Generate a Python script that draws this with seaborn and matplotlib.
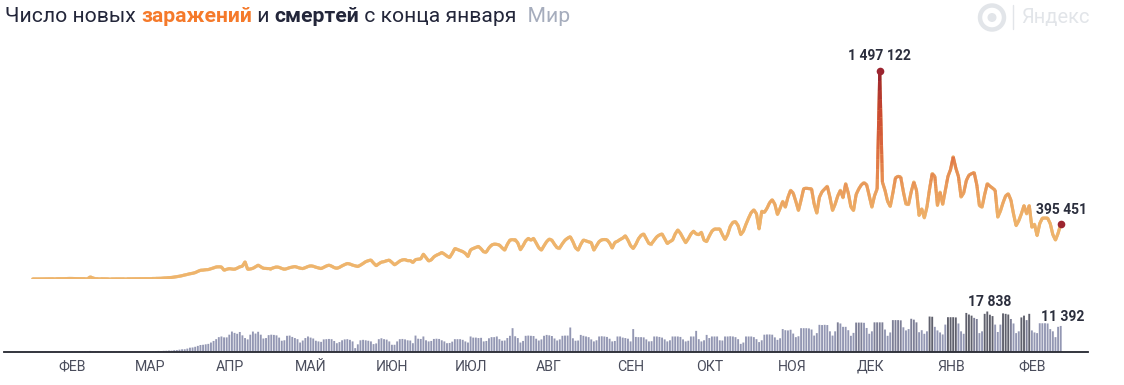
import numpy as np
import pandas as pd
import matplotlib
matplotlib.use("Agg")
import matplotlib.pyplot as plt
from matplotlib.collections import LineCollection
from matplotlib.colors import LinearSegmentedColormap
from matplotlib.patches import Circle
import seaborn as sns

# new cases per day since 22 Jan 2020, thousands
cases_k = [
    0.6, 0.1, 0.3, 0.5, 0.7, 0.8, 1.8, 1.5, 2.0, 2.0,
    2.1, 2.6, 2.0, 3.2, 3.9, 3.7, 3.2, 2.7, 3.1, 2.6,
    2.0, 2.0, 15.1, 6.5, 2.3, 2.0, 2.0, 1.9, 0.5, 0.6,
    0.6, 0.3, 1.0, 0.6, 0.8, 1.0, 1.0, 1.3, 1.5, 2.0,
    1.9, 2.0, 2.3, 2.8, 2.9, 2.1, 4.0, 4.0, 4.6, 5.0,
    7, 8, 10, 11, 14, 17, 20, 24, 29, 33,
    38, 41, 46, 55, 63, 64, 67, 68, 74, 80,
    87, 88, 87, 63, 70, 75, 72, 70, 78, 88,
    92, 124, 70, 72, 77, 88, 100, 88, 77, 76,
    75, 75, 82, 87, 84, 76, 70, 75, 82, 86,
    90, 84, 78, 75, 82, 90, 95, 92, 85, 80,
    75, 84, 94, 100, 93, 82, 77, 84, 95, 104,
    112, 108, 100, 95, 90, 100, 112, 125, 132, 137,
    115, 96, 110, 122, 125, 132, 136, 120, 102, 115,
    130, 138, 140, 132, 133, 119, 140, 143, 145, 179,
    155, 130, 138, 160, 172, 180, 191, 180, 165, 155,
    185, 220, 213, 205, 198, 185, 162, 211, 220, 228,
    235, 218, 195, 195, 225, 245, 252, 250, 245, 225,
    208, 250, 281, 284, 284, 260, 211, 240, 275, 293,
    280, 293, 260, 225, 208, 240, 270, 288, 280, 250,
    225, 225, 255, 280, 295, 305, 270, 225, 208, 250,
    281, 275, 268, 263, 208, 240, 270, 283, 285, 283,
    260, 223, 264, 272, 285, 295, 312, 280, 240, 220,
    250, 290, 315, 325, 290, 255, 255, 280, 305, 318,
    325, 290, 256, 270, 280, 325, 354, 330, 295, 262,
    290, 325, 345, 325, 320, 337, 280, 270, 310, 345,
    361, 360, 361, 320, 285, 320, 380, 409, 414, 385,
    320, 345, 395, 440, 480, 499, 470, 361, 489, 480,
    510, 550, 572, 540, 465, 510, 560, 518, 590, 640,
    620, 560, 494, 570, 652, 655, 652, 650, 540, 475,
    590, 630, 650, 669, 590, 494, 540, 600, 640, 586,
    688, 620, 520, 494, 610, 650, 680, 695, 680, 600,
    518, 600, 650, 1497.122, 700, 640, 560, 523, 620, 730,
    741, 735, 630, 540, 540, 630, 700, 640, 458, 506,
    441, 520, 650, 761, 740, 530, 627, 538, 640, 740,
    790, 882, 800, 740, 591, 620, 710, 749, 760, 768,
    680, 530, 518, 610, 688, 670, 656, 640, 446, 490,
    550, 600, 615, 570, 470, 385, 420, 470, 530, 470,
    530, 373, 395, 313, 400, 439, 440, 439, 400, 320,
    281, 330, 395.451,
]

# deaths per day, same days
deaths = [
    17, 1, 8, 16, 15, 24, 26, 26, 38, 43,
    46, 45, 57, 65, 66, 73, 73, 86, 89, 97,
    108, 97, 254, 121, 143, 142, 106, 98, 139, 115,
    118, 109, 97, 150, 71, 52, 29, 44, 37, 58,
    68, 80, 77, 105, 100, 122, 180, 190, 250, 220,
    300, 340, 430, 390, 600, 650, 820, 990, 1000, 1300,
    1700, 1800, 2100, 2500, 2900, 3000, 3200, 3400, 4000, 4700,
    5500, 6400, 6700, 6300, 6300, 7500, 8900, 8300, 7900, 8700,
    7200, 6000, 5400, 7500, 8900, 8000, 8800, 7500, 5800, 6000,
    7300, 7500, 7400, 7200, 6200, 4800, 5000, 7000, 7100, 6500,
    6000, 5500, 4000, 4900, 6000, 6700, 6200, 5800, 4800, 4500,
    4300, 5400, 5500, 5600, 5500, 4700, 3700, 4200, 5000, 5400,
    5500, 5200, 4500, 1500, 3200, 5000, 5200, 5000, 4800, 4500,
    3300, 3600, 5500, 5900, 5500, 5300, 4500, 3000, 3000, 4500,
    5500, 5600, 5400, 5000, 4900, 3700, 7100, 5700, 5600, 6700,
    5000, 4500, 4700, 5600, 5700, 5600, 5000, 4500, 3700, 3800,
    4400, 5500, 5500, 5500, 5200, 4500, 4000, 6700, 6200, 6200,
    6000, 6100, 4500, 4700, 5900, 6400, 6400, 6700, 5500, 4800,
    4900, 6000, 7000, 10400, 6800, 6000, 4000, 4700, 7000, 7100,
    7000, 6900, 5700, 4900, 5400, 7000, 7400, 7200, 6900, 5800,
    4900, 5400, 7000, 7100, 7100, 10700, 5900, 4800, 4900, 7400,
    7000, 6700, 6400, 5400, 4500, 5000, 6700, 6800, 6700, 6500,
    5700, 4500, 4700, 6700, 6700, 6200, 6000, 5700, 4500, 10000,
    6500, 6400, 6400, 6300, 5400, 4500, 4600, 6700, 6700, 6500,
    6200, 5400, 4500, 5000, 6700, 6700, 6700, 6500, 5400, 4500,
    4800, 6700, 6700, 9200, 5500, 4500, 5000, 7400, 6000, 6700,
    6700, 6700, 5000, 4900, 6700, 6700, 6800, 6700, 6400, 5500,
    3400, 4000, 6700, 6700, 6700, 6400, 5500, 4200, 5000, 7500,
    7600, 7600, 7500, 6300, 5200, 5900, 10000, 9500, 9400, 9700,
    8000, 6400, 6800, 10400, 10400, 10400, 10300, 9800, 7100, 8200,
    11900, 11800, 11900, 11800, 9000, 7100, 9000, 13000, 12500, 11000,
    11000, 9500, 7000, 8300, 12900, 12900, 12900, 12800, 10500, 7900,
    9000, 13000, 13000, 13000, 13000, 9800, 7000, 8500, 14000, 14000,
    14000, 13900, 10800, 9400, 10000, 14600, 14200, 13000, 8600, 9500,
    7900, 9000, 15600, 15500, 11000, 9400, 8500, 7600, 12000, 15300,
    15300, 15300, 15200, 12500, 9000, 7900, 17200, 16500, 16000, 15000,
    14500, 8200, 9000, 16800, 17838, 16400, 15800, 12000, 8700, 12000,
    17000, 16800, 16500, 14500, 12500, 8200, 9000, 15200, 16000, 14000,
    16800, 9400, 8500, 8200, 12600, 12600, 12600, 12500, 10000, 9000,
    6400, 11000, 11392,
]

month_starts = [10, 39, 70, 100, 131, 161, 192, 223, 253, 284, 314, 345, 376]
month_labels = ["ФЕВ", "МАР", "АПР", "МАЙ", "ИЮН", "ИЮЛ", "АВГ",
                "СЕН", "ОКТ", "НОЯ", "ДЕК", "ЯНВ", "ФЕВ"]

W, H = 1124, 385
INK = "#2b2e3d"
RED = "#9c2530"
FONT = ["Roboto", "DejaVu Sans"]

sns.set_theme(style="white")
plt.rcParams["font.family"] = FONT

df_cases = pd.DataFrame({"day": np.arange(len(cases_k)), "cases": np.array(cases_k) * 1000})
df_deaths = pd.DataFrame({"day": np.arange(len(deaths)), "deaths": deaths})
df_deaths["tone"] = pd.cut(df_deaths["deaths"], [-1, 12800, 15000, 99999],
                           labels=["low", "mid", "high"]).astype(str)

fig = plt.figure(figsize=(W / 100, H / 100), dpi=100, facecolor="white")


def px_axes(left, right, top, bottom):
    return fig.add_axes([left / W, (H - bottom) / H, (right - left) / W, (bottom - top) / H])


xlim = (-10.9, 402.4)

# bars
ax_bar = px_axes(4, 1088, 296, 351.5)
sns.barplot(data=df_deaths, x="day", y="deaths", hue="tone", native_scale=True, dodge=False,
            palette={"low": "#9397b3", "mid": "#7d7f96", "high": "#5f606c"},
            width=0.72, linewidth=0, saturation=1, legend=False, ax=ax_bar)
for bar in ax_bar.patches:
    bar.set_snap(False)
ax_bar.set_xlim(xlim)
ax_bar.set_ylim(0, 55.5 * 446)
ax_bar.set(xlabel="", ylabel="")
ax_bar.set_yticks([])
ax_bar.set_xticks(month_starts)
ax_bar.set_xticklabels(month_labels, ha="left", fontsize=10.2, color="#4a4d5c")
ax_bar.tick_params(axis="x", length=0, pad=6, bottom=False)
sns.despine(ax=ax_bar, left=True)
ax_bar.spines["bottom"].set_color("#23252e")
ax_bar.spines["bottom"].set_linewidth(1.3)
ax_bar.patch.set_alpha(0)

# line, recoloured by height
ax_line = px_axes(4, 1088, 60, 279)
sns.lineplot(data=df_cases, x="day", y="cases", color="#eeb46c", linewidth=2.2, ax=ax_line)
ax_line.set_xlim(xlim)
ax_line.set_ylim(0, 219 * 7215)
ax_line.axis("off")
ax_line.patch.set_alpha(0)

cmap = LinearSegmentedColormap.from_list("heat", [
    (0.0, "#efb86f"), (0.30, "#eeb169"), (0.42, "#ea9c5c"), (0.58, "#e07444"),
    (0.80, "#cb4a31"), (1.0, "#96222e")])
xs, ys = ax_line.lines[0].get_xydata().T
segs, vals = [], []
for i in range(len(xs) - 1):
    # split each step so the tall spike fades along its length
    tx = np.linspace(xs[i], xs[i + 1], 13)
    ty = np.linspace(ys[i], ys[i + 1], 13)
    for j in range(12):
        segs.append([(tx[j], ty[j]), (tx[j + 1], ty[j + 1])])
        vals.append((ty[j] + ty[j + 1]) / 2)
lc = LineCollection(segs, cmap=cmap, norm=plt.Normalize(0, max(ys)), linewidth=2.2, capstyle="butt")
lc.set_array(np.array(vals))
ax_line.add_collection(lc)

# end points and their numbers
peak = int(df_cases["cases"].idxmax())
last = len(cases_k) - 1
for d in (peak, last):
    ax_line.plot(d, df_cases["cases"][d], "o", color=RED, ms=5.5, mew=0, zorder=5, clip_on=False)


def fmt(v):
    return f"{int(round(v)):,}".replace(",", " ")


label_kw = dict(textcoords="offset pixels", ha="center", va="center", fontsize=10,
                fontweight="bold", color=INK, annotation_clip=False)
ax_line.annotate(fmt(cases_k[peak] * 1000), (peak, cases_k[peak] * 1000), xytext=(0, 15), **label_kw)
ax_line.annotate(fmt(cases_k[last] * 1000), (last, cases_k[last] * 1000), xytext=(1, 14), **label_kw)
top_death = int(df_deaths["deaths"].idxmax())
ax_bar.annotate(fmt(deaths[top_death]), (top_death, deaths[top_death]), xytext=(2, 10), **label_kw)
ax_bar.annotate(fmt(deaths[-1]), (len(deaths) - 1, deaths[-1]), xytext=(2, 9), **label_kw)

# title, piece by piece
title_parts = [("Число новых ", "#23263a", "normal"), ("заражений", "#f57a2b", "bold"),
               (" и ", "#23263a", "normal"), ("смертей", "#23263a", "bold"),
               (" с конца января", "#23263a", "normal"), ("  Мир", "#a6adbd", "normal")]
renderer = fig.canvas.get_renderer()
x_px = 5
for part, col, weight in title_parts:
    t = fig.text(x_px / W, (H - 21.5) / H, part.replace(" ", "\u00a0"), color=col, fontweight=weight,
                 fontsize=15.2, ha="left", va="baseline")
    x_px = t.get_window_extent(renderer).x1

# logo
overlay = fig.add_axes([0, 0, 1, 1], xlim=(0, W), ylim=(H, 0), zorder=-1)
overlay.axis("off")
overlay.add_patch(Circle((992, 17.5), 12, fill=False, ec="#e2e5e9", lw=3.2))
overlay.add_patch(Circle((992, 17.5), 4.5, fc="#e2e5e9", ec="none"))
overlay.plot([1013, 1013], [5, 29], color="#e2e5e9", lw=1)
overlay.text(1021, 18, "Яндекс", color="#e2e5e9", fontsize=14.5, ha="left", va="center",
             family=["Liberation Sans Narrow", "Roboto", "DejaVu Sans"])

fig.savefig("out.png", dpi=100, facecolor="white")
